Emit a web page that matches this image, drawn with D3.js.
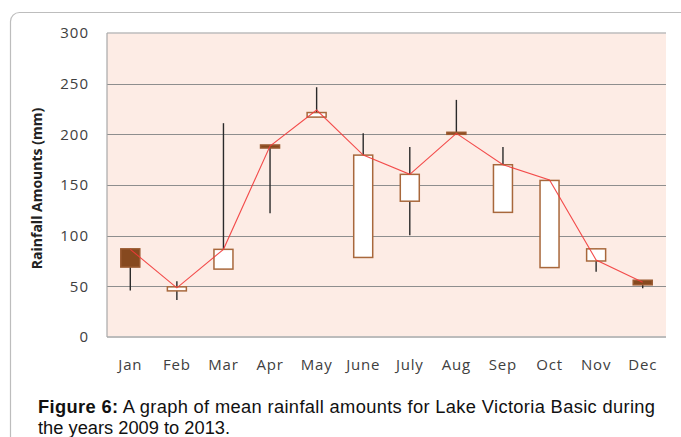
<!DOCTYPE html>
<html>
<head>
<meta charset="utf-8">
<script src="https://cdn.jsdelivr.net/npm/d3@7"></script>
<style>
  html, body { margin: 0; padding: 0; background: #fff; }
  svg { display: block; }
</style>
</head>
<body>
<svg id="chart" width="681" height="437"></svg>
<script>
// ---- Data ----
const months = ["Jan","Feb","Mar","Apr","May","June","July","Aug","Sep","Oct","Nov","Dec"];
const openVals  = [87,   45.5, 67,   189.5, 217,   78.5,  134,   202, 123,   68.5,  75,  56];
const closeVals = [69,   49.5, 86.5, 186.5, 221.5, 179.5, 160.5, 200, 170,   154.5, 87,  51.5];
const highVals  = [87,   55,   211,  189.5, 246.5, 201,   187.5, 234, 187.5, 154.5, 87,  56];
const lowVals   = [46,   36.5, 67,   122,   217,   78.5,  100.5, 200, 123,   68.5,  64.5, 48];
const meanVals  = [86.5, 48.5, 86.5, 188.5, 224,   179.5, 160.5, 201, 170,   155,   76,  54];
const yTicks = [0, 50, 100, 150, 200, 250, 300];
const yLabel = "Rainfall Amounts (mm)";
const captionBold = "Figure 6:";
const captionLine1 = " A graph of mean rainfall amounts for Lake Victoria Basic during";
const captionLine2 = "the years 2009 to 2013.";

const svg = d3.select("#chart");

// Card border
svg.append("rect")
  .attr("x", 10.5).attr("y", 12.5).attr("width", 720).attr("height", 500)
  .attr("rx", 9).attr("ry", 9)
  .attr("fill", "#fff").attr("stroke", "#bdbdbd").attr("stroke-width", 1.2);

const plot = { left: 107, right: 666, top: 33, bottom: 337 };

const x = d3.scaleBand().domain(months).range([plot.left, plot.right]).padding(0);
const y = d3.scaleLinear().domain([0, 300]).range([plot.bottom, plot.top]);

// Plot background
svg.append("rect")
  .attr("x", plot.left).attr("y", plot.top)
  .attr("width", plot.right - plot.left).attr("height", plot.bottom - plot.top)
  .attr("fill", "#fdece5");

// Gridlines
svg.append("g").selectAll("line")
  .data(yTicks.filter(t => t > 0 && t < 300))
  .join("line")
  .attr("x1", plot.left).attr("x2", plot.right)
  .attr("y1", d => Math.round(y(d)) + 0.5).attr("y2", d => Math.round(y(d)) + 0.5)
  .attr("stroke", "#8e8e8e").attr("stroke-width", 1);

// Top border (300 line)
svg.append("line")
  .attr("x1", plot.left).attr("x2", plot.right)
  .attr("y1", y(300)).attr("y2", y(300))
  .attr("stroke", "#bcbcbc").attr("stroke-width", 1.5);
// Bottom axis line
svg.append("line")
  .attr("x1", plot.left).attr("x2", plot.right)
  .attr("y1", y(0)).attr("y2", y(0))
  .attr("stroke", "#bcbcbc").attr("stroke-width", 2);
// Left axis line
svg.append("line")
  .attr("x1", plot.left).attr("x2", plot.left)
  .attr("y1", plot.top).attr("y2", plot.bottom)
  .attr("stroke", "#a8a8a8").attr("stroke-width", 1.2);

// Y axis tick labels
const yAxis = d3.axisLeft(y).tickValues(yTicks).tickSize(0).tickPadding(18);
const gy = svg.append("g").attr("transform", `translate(${plot.left},0)`).call(yAxis);
gy.select(".domain").remove();
gy.selectAll("text")
  .attr("font-family", "'Open Sans', sans-serif")
  .attr("font-size", 15).attr("letter-spacing", "1px")
  .attr("fill", "#404040");

// X axis labels
const xAxis = d3.axisBottom(x).tickSize(0).tickPadding(22);
const gx = svg.append("g").attr("transform", `translate(0,${plot.bottom})`).call(xAxis);
gx.select(".domain").remove();
gx.selectAll("text")
  .attr("font-family", "'Open Sans', sans-serif")
  .attr("font-size", 15).attr("letter-spacing", "0.8px")
  .attr("fill", "#404040");

// Y label
svg.append("text")
  .attr("transform", `translate(42,${(100 + 277) / 2}) rotate(-90)`)
  .attr("text-anchor", "middle")
  .attr("font-family", "'Open Sans', sans-serif")
  .attr("font-weight", "bold").attr("font-size", 14)
  .attr("fill", "#222")
  .text(yLabel);

const data = months.map((m, i) => ({
  m, open: openVals[i], close: closeVals[i], high: highVals[i], low: lowVals[i], mean: meanVals[i]
}));

const cx = d => x(d.m) + x.bandwidth() / 2;
const boxW = 19;

// Whiskers
svg.append("g").selectAll("line")
  .data(data)
  .join("line")
  .attr("x1", cx).attr("x2", cx)
  .attr("y1", d => y(d.high)).attr("y2", d => y(d.low))
  .attr("stroke", "#2a2a2a").attr("stroke-width", 1.4);

// Boxes
svg.append("g").selectAll("rect")
  .data(data)
  .join("rect")
  .attr("x", d => cx(d) - boxW / 2)
  .attr("width", boxW)
  .attr("y", d => y(Math.max(d.open, d.close)))
  .attr("height", d => Math.max(1, y(Math.min(d.open, d.close)) - y(Math.max(d.open, d.close))))
  .attr("fill", d => d.close < d.open ? "#86491f" : "#ffffff")
  .attr("stroke", d => d.close < d.open ? "#9a5a30" : "#a8683c")
  .attr("stroke-width", 1.5);

// Mean line
const line = d3.line().x(cx).y(d => y(d.mean));
svg.append("path")
  .datum(data)
  .attr("d", line)
  .attr("fill", "none")
  .attr("stroke", "#f23a3a").attr("stroke-width", 1.1).attr("stroke-opacity", 0.9);

// Caption (justified first line)
const cap = svg.append("text")
  .attr("x", 38).attr("y", 413)
  .attr("font-family", "'Liberation Sans', Arial, sans-serif")
  .attr("font-size", 18.3).attr("fill", "#111")
  .attr("textLength", 617).attr("lengthAdjust", "spacing");
cap.append("tspan").attr("font-weight", "bold").text(captionBold);
cap.append("tspan").text(captionLine1);
svg.append("text")
  .attr("x", 38).attr("y", 434)
  .attr("font-family", "'Liberation Sans', Arial, sans-serif")
  .attr("font-size", 18.3).attr("fill", "#111")
  .text(captionLine2);
</script>
</body>
</html>
